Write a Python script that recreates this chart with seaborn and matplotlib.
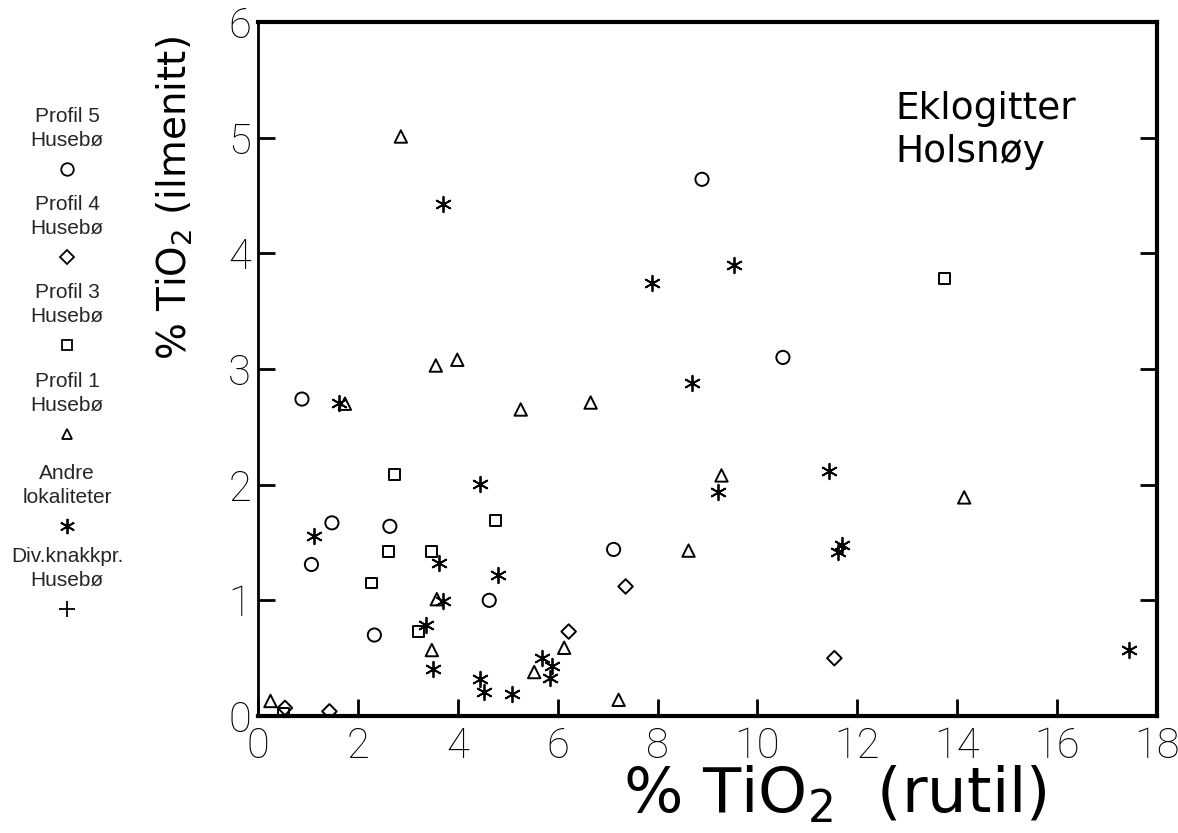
import matplotlib
matplotlib.use("Agg")
import matplotlib.pyplot as plt
from matplotlib.lines import Line2D
import seaborn as sns
import pandas as pd

# TiO2 bound in rutile (x) versus TiO2 bound in ilmenite (y), weight %
profil5_x = [0.88, 1.07, 1.48, 2.33, 2.64, 4.63, 7.12, 8.89, 10.51]
profil5_y = [2.74, 1.31, 1.67, 0.70, 1.64, 1.00, 1.44, 4.64, 3.10]

profil4_x = [0.54, 1.43, 6.22, 7.36, 11.54]
profil4_y = [0.07, 0.04, 0.73, 1.12, 0.50]

profil3_x = [0.51, 2.28, 2.61, 2.74, 3.21, 3.48, 4.75, 13.75]
profil3_y = [0.02, 1.15, 1.42, 2.09, 0.73, 1.42, 1.69, 3.78]

profil1_x = [0.25, 1.74, 2.86, 3.48, 3.56, 3.58, 3.99, 5.26, 5.53, 6.13,
             6.66, 7.22, 8.62, 9.28, 14.14]
profil1_y = [0.13, 2.70, 5.01, 0.57, 3.03, 1.01, 3.08, 2.65, 0.38, 0.59,
             2.71, 0.14, 1.43, 2.08, 1.89]

andre_x = [1.13, 1.62, 3.36, 3.51, 3.62, 3.70, 3.71, 4.45, 4.45, 4.53,
           4.81, 5.09, 5.68, 5.85, 5.88, 7.89, 8.69, 9.22, 9.54, 11.43,
           11.62, 11.70, 17.43]
andre_y = [1.56, 2.71, 0.79, 0.41, 1.32, 4.43, 0.99, 2.01, 0.32, 0.21,
           1.22, 0.19, 0.50, 0.33, 0.43, 3.74, 2.88, 1.94, 3.90, 2.12,
           1.42, 1.48, 0.57]

knakk_x = []
knakk_y = []

group_labels = ["Profil 5\nHusebø", "Profil 4\nHusebø", "Profil 3\nHusebø",
                "Profil 1\nHusebø", "Andre\nlokaliteter", "Div.knakkpr.\nHusebø"]

x_ticks = list(range(0, 19, 2))
y_ticks = list(range(0, 7))

sns.set_theme(style="white")
plt.rcParams["font.family"] = ["DejaVu Sans"]
plt.rcParams["mathtext.default"] = "regular"

fig = plt.figure(figsize=(11.78, 8.33), dpi=100)
ax = fig.add_axes([258 / 1178, 117 / 833, 899 / 1178, 694 / 833])

asterisk = (6, 2, 0)
series = [
    (profil5_x, profil5_y, "o", 90, True),
    (profil4_x, profil4_y, "D", 55, True),
    (profil3_x, profil3_y, "s", 62, True),
    (profil1_x, profil1_y, "^", 80, True),
    (andre_x, andre_y, asterisk, 125, False),
    (knakk_x, knakk_y, "+", 120, False),
]
for xs, ys, mk, sz, hollow in series:
    if not xs:
        continue
    df = pd.DataFrame({"x": xs, "y": ys})
    if hollow:
        sns.scatterplot(data=df, x="x", y="y", marker=mk, s=sz, ax=ax,
                        facecolors="none", edgecolors="black", linewidths=1.4)
    else:
        sns.scatterplot(data=df, x="x", y="y", marker=mk, s=sz, ax=ax,
                        color="black", linewidths=1.3)

ax.set_xlim(0, 18)
ax.set_ylim(0, 6)
ax.set_xticks(x_ticks)
ax.set_yticks(y_ticks)
tick_font = {"family": "Roboto", "weight": "light", "size": 30}
ax.set_xticklabels([str(t) for t in x_ticks], fontdict=tick_font)
ax.set_yticklabels([str(t) for t in y_ticks], fontdict=tick_font)
ax.tick_params(direction="in", length=12, width=2, colors="black",
               right=True, left=True, bottom=True, top=False)
ax.tick_params(axis="x", pad=7)
ax.tick_params(axis="y", pad=5)

for side, lw in [("left", 2), ("bottom", 3), ("right", 3), ("top", 3)]:
    ax.spines[side].set_linewidth(lw)
    ax.spines[side].set_color("black")

ax.set_xlabel("% TiO$_2$  (rutil)", fontsize=45, color="black",
              ha="center", va="center")
ax.xaxis.set_label_coords(0.642, -0.114)
ax.set_ylabel("% TiO$_2$ (ilmenitt)", fontsize=28, color="black",
              ha="center", va="center")
ax.yaxis.set_label_coords(-0.093, 0.746)

ax.text(0.709, 0.90, "Eklogitter\nHolsnøy", transform=ax.transAxes,
        fontsize=27, ha="left", va="top", color="black", linespacing=1.25)

# key on the left margin: label lines with the marker underneath
legend_markers = ["o", "D", "s", "^", asterisk, "+"]
legend_sizes = [9, 7.5, 7, 7.5, 11, 12]
block_tops = [118, 206, 294, 383, 475, 558]
for lab, mk, ms, top in zip(group_labels, legend_markers, legend_sizes, block_tops):
    fig.text(67 / 1178, 1 - (top - 11) / 833, lab, ha="center", va="top",
             fontsize=15, family="Liberation Sans", linespacing=1.35)
    filled = mk in ("+", asterisk)
    fig.add_artist(Line2D([67 / 1178], [1 - (top + 51) / 833],
                          transform=fig.transFigure, marker=mk, markersize=ms,
                          markerfacecolor="black" if filled else "none",
                          markeredgecolor="black", markeredgewidth=1.3,
                          linestyle="none"))

fig.savefig("out.png", dpi=100, facecolor="white")
